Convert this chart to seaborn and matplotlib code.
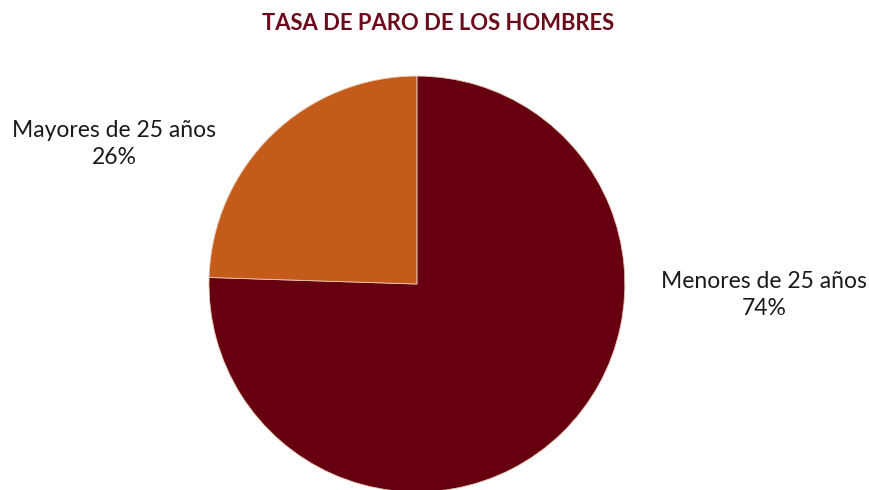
import matplotlib
matplotlib.use("Agg")
import matplotlib.pyplot as plt
import seaborn as sns

categories = ["Menores de 25 años", "Mayores de 25 años"]
values = [75.5, 24.5]
pct_labels = ["74%", "26%"]
colors = ["#660010", "#C55B1B"]
title = "TASA DE PARO DE LOS HOMBRES"

sns.set_theme(style="white")
plt.rcParams['font.family'] = ['Lato', 'DejaVu Sans']

fig = plt.figure(figsize=(8.7, 4.9), dpi=100)
ax = fig.add_axes([0.2402, -0.0041, 0.478, 0.849])
wedges, _ = ax.pie(values, colors=colors, startangle=90, counterclock=False,
                   radius=1.0, wedgeprops=dict(edgecolor="#e8c8b0", linewidth=0.6))
ax.set_xlim(-1, 1)
ax.set_ylim(-1, 1)
ax.set_aspect("equal")
ax.axis("off")

fig.text(0.503, 1 - 23 / 490, title, ha="center", va="center", fontsize=15.8,
         fontweight="bold", color="#6B0A1A")

label_pos = {"Menores de 25 años": (764 / 870, 1 - 295 / 490),
             "Mayores de 25 años": (114 / 870, 1 - 144 / 490)}
for cat, p in zip(categories, pct_labels):
    x, y = label_pos[cat]
    fig.text(x, y, f"{cat}\n{p}", ha="center", va="center",
             fontsize=16.5, color="#1a1a1a", linespacing=1.3)

fig.savefig("out.png", dpi=100)
